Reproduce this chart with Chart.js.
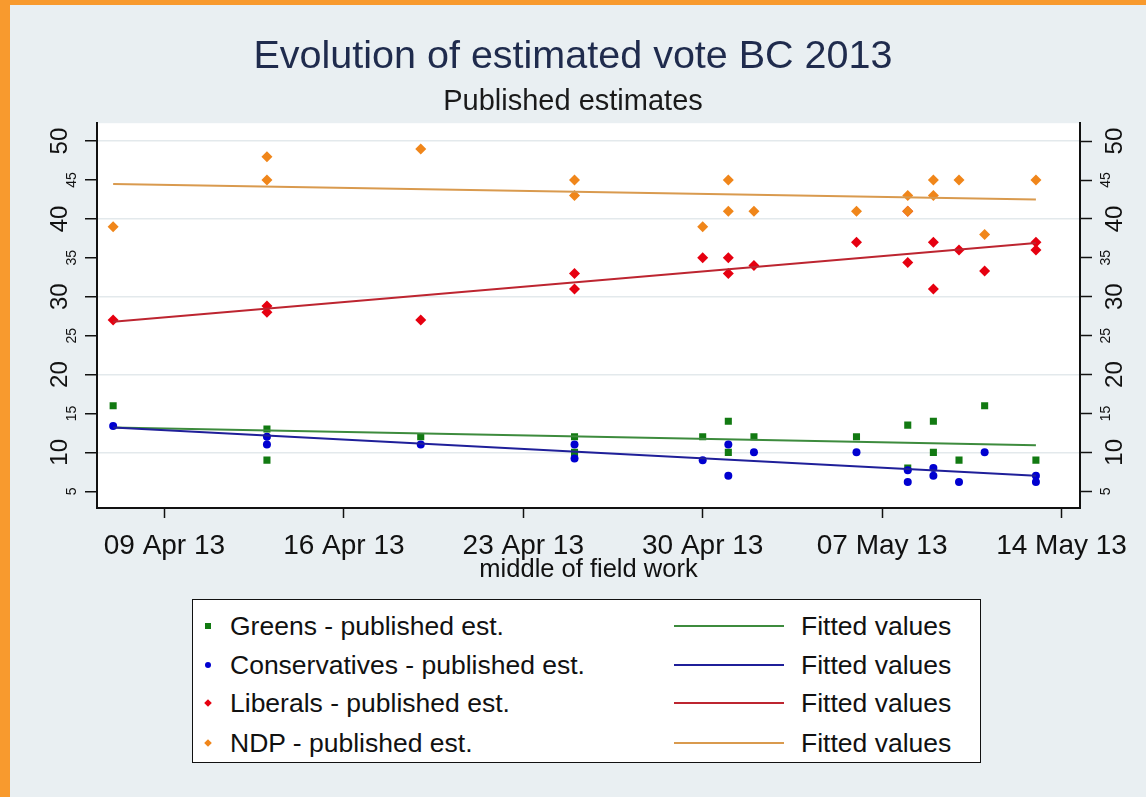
<!DOCTYPE html>
<html>
<head>
<meta charset="utf-8">
<script src="https://cdn.jsdelivr.net/npm/chart.js@4.4.1/dist/chart.umd.min.js"></script>
<style>
  html, body { margin: 0; padding: 0; }
  body {
    width: 1146px;
    height: 797px;
    position: relative;
    overflow: hidden;
    background: #f89a2e;
    font-family: "Liberation Sans", Arial, sans-serif;
  }
  #panel { position: absolute; left: 10px; top: 5px; right: 0; bottom: 0; background: #e9eff2; }
  #chart { position: absolute; left: 0; top: 0; }
  #legend {
    position: absolute;
    left: 192px;
    top: 599px;
    width: 787px;
    height: 162px;
    border: 1.5px solid #111;
    background: #fff;
  }
  .row { position: absolute; left: 0; width: 100%; height: 30px; line-height: 30px; font-size: 26.5px; color: #111; }
  .mark { position: absolute; left: 12px; top: 12px; width: 6px; height: 6px; }
  .label { position: absolute; left: 37px; top: 0; white-space: nowrap; }
  .line { position: absolute; left: 481px; top: 14px; width: 110px; height: 2px; }
  .fit { position: absolute; left: 608px; top: 0; white-space: nowrap; }
</style>
</head>
<body>
<div id="panel"></div>
<canvas id="chart" width="1146" height="797"></canvas>
<div id="legend"></div>

<script>
// poll results (middle of field work, % vote)
const greensDates = ["2013-04-07", "2013-04-13", "2013-04-13", "2013-04-19", "2013-04-25", "2013-04-25",
  "2013-04-30", "2013-05-01", "2013-05-01", "2013-05-02", "2013-05-06", "2013-05-08", "2013-05-08",
  "2013-05-09", "2013-05-09", "2013-05-10", "2013-05-11", "2013-05-13"];
const greensPct = [16, 13, 9, 12, 12, 10, 12, 14, 10, 12, 12, 13.5, 8, 14, 10, 9, 16, 9];

const consDates = ["2013-04-07", "2013-04-13", "2013-04-13", "2013-04-19", "2013-04-25", "2013-04-25",
  "2013-04-30", "2013-05-01", "2013-05-01", "2013-05-02", "2013-05-06", "2013-05-08", "2013-05-08",
  "2013-05-09", "2013-05-09", "2013-05-10", "2013-05-11", "2013-05-13", "2013-05-13"];
const consPct = [13.4, 12, 11, 11, 11, 9.2, 9, 11, 7, 10, 10, 7.7, 6.2, 8, 7, 6.2, 10, 7, 6.2];

const libsDates = ["2013-04-07", "2013-04-13", "2013-04-13", "2013-04-19", "2013-04-25", "2013-04-25",
  "2013-04-30", "2013-05-01", "2013-05-01", "2013-05-02", "2013-05-06", "2013-05-08", "2013-05-08",
  "2013-05-09", "2013-05-09", "2013-05-10", "2013-05-11", "2013-05-13", "2013-05-13"];
const libsPct = [27, 28.8, 28, 27, 33, 31, 35, 35, 33, 34, 37, 34.4, 41, 37, 31, 36, 33.3, 37, 36];

const ndpDates = ["2013-04-07", "2013-04-13", "2013-04-13", "2013-04-19", "2013-04-25", "2013-04-25",
  "2013-04-30", "2013-05-01", "2013-05-01", "2013-05-02", "2013-05-06", "2013-05-08", "2013-05-08",
  "2013-05-09", "2013-05-09", "2013-05-10", "2013-05-11", "2013-05-13"];
const ndpPct = [39, 48, 45, 49, 45, 43, 39, 45, 41, 41, 41, 43, 41, 45, 43, 45, 38, 45];

// fitted lines, first and last poll date
const fitDates = ["2013-04-07", "2013-05-13"];
const greensFit = [13.2, 10.9];
const consFit = [13.2, 7.0];
const libsFit = [26.8, 36.9];
const ndpFit = [44.5, 42.5];

const xTickDates = ["2013-04-09", "2013-04-16", "2013-04-23", "2013-04-30", "2013-05-07", "2013-05-14"];
const xTickLabels = ["09 Apr 13", "16 Apr 13", "23 Apr 13", "30 Apr 13", "07 May 13", "14 May 13"];
const yTicks = [5, 10, 15, 20, 25, 30, 35, 40, 45, 50];

const FONT = '"Liberation Sans", Arial, sans-serif';

// day number, 1 = 1 Apr 2013
function dayNum(s) {
  const p = s.split("-").map(Number);
  return (Date.UTC(p[0], p[1] - 1, p[2]) - Date.UTC(2013, 2, 31)) / 86400000;
}

function pts(dates, vals) {
  return dates.map((d, i) => ({ x: dayNum(d), y: vals[i] }));
}

function scatterSet(label, dates, vals, color, style, radius, order) {
  return {
    label: label,
    data: pts(dates, vals),
    showLine: false,
    pointStyle: style,
    pointRadius: radius,
    pointBackgroundColor: color,
    pointBorderColor: color,
    pointBorderWidth: 0,
    backgroundColor: color,
    borderColor: color,
    order: order,
  };
}

function fitSet(vals, color, order) {
  return {
    label: "Fitted values",
    data: pts(fitDates, vals),
    showLine: true,
    borderColor: color,
    backgroundColor: color,
    borderWidth: 2,
    pointRadius: 0,
    order: order,
  };
}

const plotBackground = {
  id: "plotBackground",
  beforeDraw(chart) {
    const a = chart.chartArea;
    chart.ctx.save();
    chart.ctx.fillStyle = "#ffffff";
    chart.ctx.fillRect(a.left, a.top, a.right - a.left, a.bottom - a.top);
    chart.ctx.restore();
  },
};

// Stata style vertical tick labels, big on the tens, small on the fives
const verticalYLabels = {
  id: "verticalYLabels",
  afterDraw(chart) {
    const ctx = chart.ctx;
    ["y", "y2"].forEach((id) => {
      const scale = chart.scales[id];
      scale.ticks.forEach((t) => {
        const major = t.value % 10 === 0;
        let cx;
        if (id === "y") cx = scale.right - (major ? 37 : 24.5);
        else cx = scale.left + (major ? 35 : 26.5);
        ctx.save();
        ctx.translate(cx, scale.getPixelForValue(t.value));
        ctx.rotate(-Math.PI / 2);
        ctx.font = (major ? "24px " : "14px ") + FONT;
        ctx.fillStyle = "#111";
        ctx.textAlign = "center";
        ctx.textBaseline = "middle";
        ctx.fillText(String(t.value), 0, 0);
        ctx.restore();
      });
    });
  },
};

const yAxisCommon = {
  type: "linear",
  min: 2.85,
  max: 52.3,
  afterBuildTicks: (scale) => {
    scale.ticks = yTicks.map((v) => ({ value: v }));
  },
  ticks: { display: false },
  border: { display: true, color: "#111", width: 2 },
};

const chart = new Chart(document.getElementById("chart"), {
  type: "scatter",
  data: {
    datasets: [
      scatterSet("Greens - published est.", greensDates, greensPct, "#127a12", "rect", 5, 8),
      fitSet(greensFit, "#3d8b3d", 7),
      scatterSet("Conservatives - published est.", consDates, consPct, "#0000d0", "circle", 4, 6),
      fitSet(consFit, "#1f1f99", 5),
      scatterSet("Liberals - published est.", libsDates, libsPct, "#e60010", "rectRot", 5.5, 4),
      fitSet(libsFit, "#bd2530", 3),
      scatterSet("NDP - published est.", ndpDates, ndpPct, "#f0861a", "rectRot", 5.5, 2),
      fitSet(ndpFit, "#d99a4e", 1),
    ],
  },
  options: {
    responsive: false,
    animation: false,
    events: [],
    layout: { padding: { top: 0, left: 0, right: 0, bottom: 209 } },
    plugins: {
      legend: { display: false },
      tooltip: { enabled: false },
      title: {
        display: true,
        text: "Evolution of estimated vote BC 2013",
        color: "#1f2b4d",
        font: { family: FONT, size: 39.5, weight: "normal" },
        padding: { top: 33.5, bottom: 0 },
      },
      subtitle: {
        display: true,
        text: "Published estimates",
        color: "#1a1a1a",
        font: { family: FONT, size: 29, weight: "normal" },
        padding: { top: 3.5, bottom: 4 },
      },
    },
    scales: {
      x: {
        type: "linear",
        position: "bottom",
        min: 6.37,
        max: 44.72,
        afterBuildTicks: (scale) => {
          scale.ticks = xTickDates.map((d) => ({ value: dayNum(d) }));
        },
        afterFit: (scale) => {
          scale.height = 80;
        },
        ticks: {
          autoSkip: false,
          maxRotation: 0,
          padding: 11,
          color: "#111",
          font: { family: FONT, size: 28 },
          callback: (v, i) => xTickLabels[i],
        },
        grid: {
          drawOnChartArea: false,
          drawTicks: true,
          tickLength: 10,
          tickColor: "#111",
          tickWidth: 1.5,
          color: "rgba(0,0,0,0)",
        },
        border: { display: true, color: "#111", width: 2 },
        title: {
          display: true,
          text: "middle of field work",
          color: "#111",
          font: { family: FONT, size: 25.5 },
          padding: { top: 0, bottom: 3 },
        },
      },
      y: Object.assign({}, yAxisCommon, {
        position: "left",
        afterFit: (scale) => {
          scale.width = 97;
        },
        grid: {
          drawOnChartArea: true,
          drawTicks: true,
          tickLength: 12,
          tickColor: "#111",
          tickWidth: 1.5,
          lineWidth: 1.5,
          color: (c) => (c.tick && c.tick.value % 10 === 0 ? "#e3e9ec" : "rgba(0,0,0,0)"),
        },
      }),
      y2: Object.assign({}, yAxisCommon, {
        position: "right",
        display: true,
        afterFit: (scale) => {
          scale.width = 66;
        },
        grid: {
          drawOnChartArea: false,
          drawTicks: true,
          tickLength: 12,
          tickColor: "#111",
          tickWidth: 1.5,
          color: "rgba(0,0,0,0)",
        },
      }),
    },
  },
  plugins: [plotBackground, verticalYLabels],
});

// two column legend: points on the left, fitted line on the right
const legend = document.getElementById("legend");
const rowTops = [11, 50, 88, 128];
for (let i = 0; i < 4; i++) {
  const pointsSet = chart.data.datasets[i * 2];
  const lineSet = chart.data.datasets[i * 2 + 1];
  const row = document.createElement("div");
  row.className = "row";
  row.style.top = rowTops[i] + "px";

  const mark = document.createElement("div");
  mark.className = "mark";
  mark.style.background = pointsSet.pointBackgroundColor;
  if (pointsSet.pointStyle === "circle") mark.style.borderRadius = "50%";
  if (pointsSet.pointStyle === "rectRot") mark.style.transform = "rotate(45deg) scale(0.9)";
  row.appendChild(mark);

  const label = document.createElement("span");
  label.className = "label";
  label.textContent = pointsSet.label;
  row.appendChild(label);

  const line = document.createElement("div");
  line.className = "line";
  line.style.background = lineSet.borderColor;
  row.appendChild(line);

  const fit = document.createElement("span");
  fit.className = "fit";
  fit.textContent = lineSet.label;
  row.appendChild(fit);

  legend.appendChild(row);
}
</script>
</body>
</html>
